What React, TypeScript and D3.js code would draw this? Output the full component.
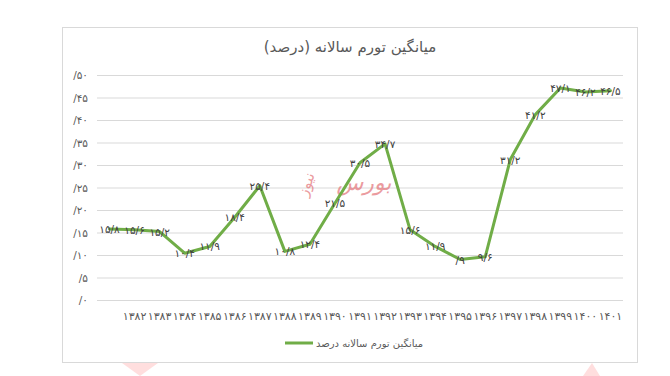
import React from "react";
import * as d3 from "d3";

const categories = ["", "۱۳۸۲", "۱۳۸۳", "۱۳۸۴", "۱۳۸۵", "۱۳۸۶", "۱۳۸۷", "۱۳۸۸", "۱۳۸۹", "۱۳۹۰", "۱۳۹۱", "۱۳۹۲", "۱۳۹۳", "۱۳۹۴", "۱۳۹۵", "۱۳۹۶", "۱۳۹۷", "۱۳۹۸", "۱۳۹۹", "۱۴۰۰", "۱۴۰۱"];
const values = [15.8, 15.6, 15.2, 10.4, 11.9, 18.4, 25.4, 10.8, 12.4, 21.5, 30.5, 34.7, 15.6, 11.9, 9, 9.6, 31.2, 41.2, 47.1, 46.2, 46.5];
const valueLabels = ["۱۵/۸", "۱۵/۶", "۱۵/۲", "۱۰/۴", "۱۱/۹", "۱۸/۴", "۲۵/۴", "۱۰/۸", "۱۲/۴", "۲۱/۵", "۳۰/۵", "۳۴/۷", "۱۵/۶", "۱۱/۹", "/۹", "۹/۶", "۳۱/۲", "۴۱/۲", "۴۷/۱", "۴۶/۲", "۴۶/۵"];
const yTicks = [0, 5, 10, 15, 20, 25, 30, 35, 40, 45, 50];
const yTickLabels = ["/۰", "/۵", "/۱۰", "/۱۵", "/۲۰", "/۲۵", "/۳۰", "/۳۵", "/۴۰", "/۴۵", "/۵۰"];
const title = "میانگین تورم سالانه (درصد)";
const seriesName = "میانگین تورم سالانه درصد";

const W = 670, H = 376;
const plot = { left: 97, right: 623, top: 75, bottom: 300 };
const font = "'DejaVu Sans', Arial, sans-serif";

export default function App() {
  const x = d3.scaleBand<number>().domain(d3.range(categories.length)).range([plot.left, plot.right]);
  const y = d3.scaleLinear().domain([0, 50]).range([plot.bottom, plot.top]);
  const cx = (i: number) => (x(i) as number) + x.bandwidth() / 2;
  const line = d3.line<number>().x((_, i) => cx(i)).y((d) => y(d));

  return (
    <svg width={W} height={H} style={{ position: "absolute", left: 0, top: 0, background: "#fff" }} fontFamily={font}>
      {/* decorative page shapes at bottom */}
      <g fill="#ffd6d6" opacity={0.8}>
        <polygon points="122,363 158,363 140,376" />
        <polygon points="583,376 592,363 600,376" />
      </g>
      <rect x={62.5} y={27.5} width={575} height={335} fill="#fff" stroke="#d9d9d9" strokeWidth={1} />
      <text x={350} y={52} textAnchor="middle" fontSize={15} fill="#595959">{title}</text>
      {yTicks.map((t, i) => (
        <g key={t}>
          <line x1={plot.left} x2={plot.right} y1={y(t) + 0.5} y2={y(t) + 0.5} stroke="#d9d9d9" strokeWidth={1} />
          <text x={88} y={y(t) + 4} textAnchor="end" fontSize={10.5} fill="#595959">{yTickLabels[i]}</text>
        </g>
      ))}
      {categories.map((c, i) => (
        <text key={i} x={cx(i)} y={320} textAnchor="middle" fontSize={11} letterSpacing={1.1} fill="#595959">{c}</text>
      ))}
      {/* watermark */}
      <g fill="#e57a80" opacity={0.75}>
        <text x={364} y={190} textAnchor="middle" fontSize={22} fontStyle="italic">بورس</text>
        <text x={311} y={186} textAnchor="middle" fontSize={15} transform="rotate(-70 311 186)">نیوز</text>
      </g>
      <path d={line(values) || ""} fill="none" stroke="#70ad47" strokeWidth={3} strokeLinejoin="round" strokeLinecap="round" />
      {values.map((v, i) => (
        <text key={i} x={cx(i)} y={y(v) + 4} textAnchor="middle" fontSize={10.5} fill="#404040">{valueLabels[i]}</text>
      ))}
      <line x1={285} x2={313} y1={343} y2={343} stroke="#70ad47" strokeWidth={3} />
      <text x={316} y={347} fontSize={10} fill="#595959" direction="rtl" textAnchor="end">{seriesName}</text>
    </svg>
  );
}
